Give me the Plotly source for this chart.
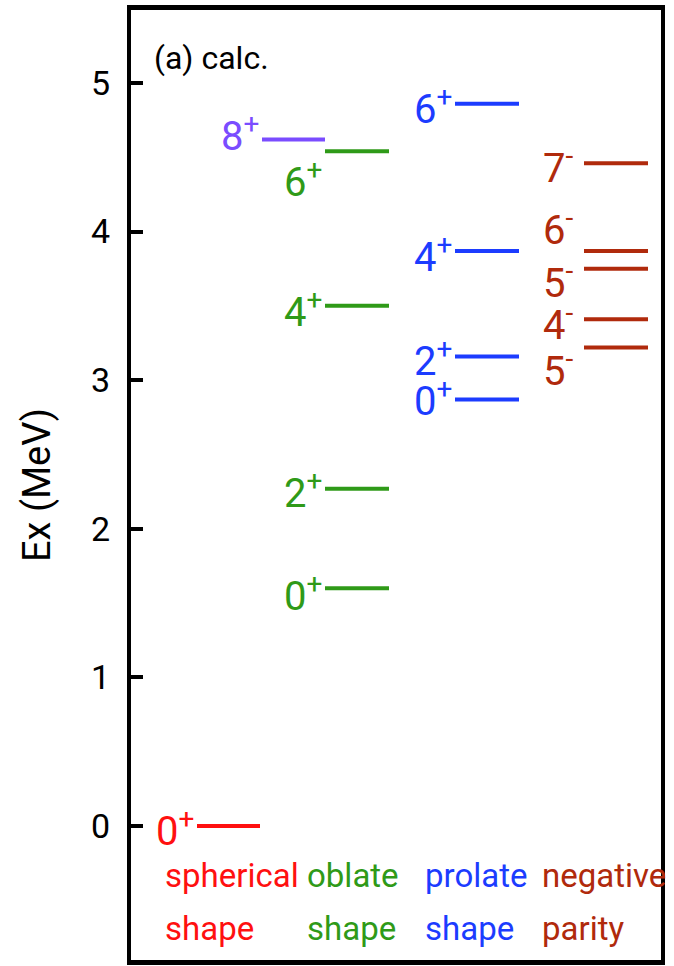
import plotly.graph_objects as go

# ---- level data (excitation energy in MeV, spin-parity labels) ----
spherical_E = [0.00]
spherical_J = ["0+"]

sph8_E = [4.62]
sph8_J = ["8+"]

oblate_E = [1.60, 2.27, 3.50, 4.54]
oblate_J = ["0+", "2+", "4+", "6+"]

prolate_E = [2.87, 3.16, 3.87, 4.86]
prolate_J = ["0+", "2+", "4+", "6+"]

negative_E = [3.22, 3.41, 3.75, 3.87, 4.46]
negative_J = ["5-", "4-", "5-", "6-", "7-"]

band_line1 = ["spherical", "oblate", "prolate", "negative"]
band_line2 = ["shape", "shape", "shape", "parity"]

# ---- styling / layout ----
FONT = "Roboto, sans-serif"
C_SPH = "#ff1010"
C_PUR = "#7a4cff"
C_OBL = "#2f9a18"
C_PRO = "#1c3cff"
C_NEG = "#b02a0c"

# horizontal extent of each column of levels (x axis units) and label offsets (px)
bands = [
    dict(E=spherical_E, J=spherical_J, x0=66, x1=129, color=C_SPH, shift=[-3]),
    dict(E=sph8_E, J=sph8_J, x0=131, x1=194, color=C_PUR, shift=[6]),
    dict(E=oblate_E, J=oblate_J, x0=194, x1=258, color=C_OBL, shift=[-5, -2, -4, -28]),
    dict(E=prolate_E, J=prolate_J, x0=324, x1=388, color=C_PRO, shift=[1, -2, -4, -3]),
    dict(E=negative_E, J=negative_J, x0=453, x1=517, color=C_NEG, shift=[-21, -3, -12, 23, -2],
         gap=9),
]
label_x = [32, 174, 292, 409]
label_colors = [C_SPH, C_OBL, C_PRO, C_NEG]

fig = go.Figure()
annotations = []

for b in bands:
    xs, ys = [], []
    for e in b["E"]:
        xs += [b["x0"], b["x1"], None]
        ys += [e, e, None]
    fig.add_trace(go.Scatter(x=xs, y=ys, mode="lines",
                             line=dict(color=b["color"], width=4),
                             hoverinfo="skip", showlegend=False))
    for e, j, s in zip(b["E"], b["J"], b["shift"]):
        num, sign = j[:-1], j[-1]
        annotations.append(dict(
            x=b["x0"] - b.get("gap", 1), y=e, xref="x", yref="y",
            text=f"{num}<sup>{sign}</sup>", showarrow=False,
            xanchor="right", yanchor="middle", yshift=s,
            font=dict(family=FONT, size=40, color=b["color"])))

for t1, t2, lx, c in zip(band_line1, band_line2, label_x, label_colors):
    for txt, yy in ((t1, -0.33), (t2, -0.69)):
        annotations.append(dict(
            x=lx, y=yy, xref="x", yref="y", text=txt, showarrow=False,
            xanchor="left", yanchor="middle", align="left",
            font=dict(family=FONT, size=33, color=c)))

annotations.append(dict(
    x=21, y=5.17, xref="x", yref="y", text="(a) calc.", showarrow=False,
    xanchor="left", yanchor="middle", font=dict(family=FONT, size=32, color="black")))

fig.update_layout(
    width=674, height=966,
    margin=dict(l=131, r=13, t=10, b=6),
    paper_bgcolor="white", plot_bgcolor="white",
    annotations=annotations,
    xaxis=dict(range=[0, 530], showgrid=False, zeroline=False, showticklabels=False,
               ticks="", showline=True, linecolor="black", linewidth=5, mirror=True),
    yaxis=dict(range=[-0.902, 5.491], showgrid=False, zeroline=False,
               tickvals=[0, 1, 2, 3, 4, 5], ticks="inside", ticklen=12, tickwidth=4,
               tickcolor="black", ticklabelstandoff=10,
               tickfont=dict(family=FONT, size=34, color="black"),
               showline=True, linecolor="black", linewidth=4, mirror=True,
               title=dict(text="Ex (MeV)", standoff=30,
                          font=dict(family=FONT, size=38, color="black"))),
)

fig.write_html("out.html")
